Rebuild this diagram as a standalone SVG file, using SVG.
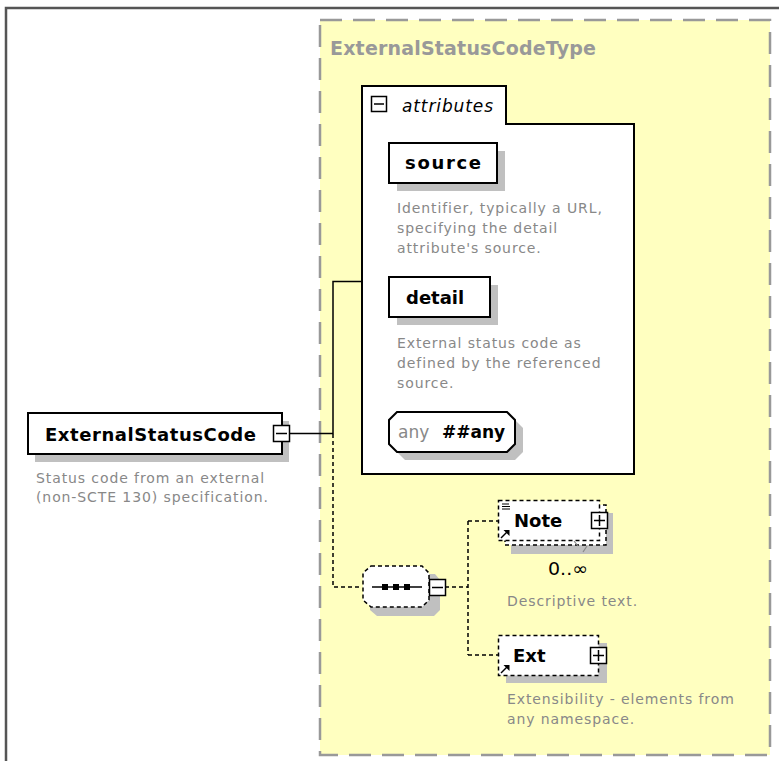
<svg xmlns="http://www.w3.org/2000/svg" width="779" height="761" viewBox="0 0 779 761">
<style>
.frame{fill:none;stroke:#555;stroke-width:2.5}
.typebox{fill:#ffffc0;stroke:#999;stroke-width:2.5;stroke-dasharray:22,11}
.title{font-family:"DejaVu Sans",sans-serif;font-weight:bold;font-size:19px;fill:#999}
.box{fill:#fff;stroke:#000;stroke-width:2}
.dbox{fill:#fff;stroke:#000;stroke-width:1.5;stroke-dasharray:4,3}
.shadow{fill:#c0c0c0;stroke:none}
.lbl{font-family:"DejaVu Sans",sans-serif;font-weight:bold;font-size:18px;fill:#000}
.desc{font-family:"DejaVu Sans",sans-serif;font-size:14px;fill:#888;letter-spacing:0.9px}
.ital{font-family:"DejaVu Sans",sans-serif;font-style:italic;font-size:17px;fill:#000}
.sym{fill:#fff;stroke:#000;stroke-width:1.5}
.symline{stroke:#000;stroke-width:1.5;fill:none}
.solid{fill:none;stroke:#000;stroke-width:1.5}
.dash{fill:none;stroke:#000;stroke-width:1.5;stroke-dasharray:4,3}
</style>
<path class="frame" d="M6,761 V8 H779"/>
<g id="ExternalStatusCodeType">
<rect class="typebox" x="320" y="20" width="450" height="735"/>
<text class="title" x="330" y="55" textLength="266" lengthAdjust="spacing">ExternalStatusCodeType</text>
</g>
<g id="connectors">
<path class="solid" d="M289,433.5 H333 V281.5 H362"/>
<path class="dash" d="M333,434 V587 H362"/>
<path class="dash" d="M445,587 H468"/>
<path class="dash" d="M468,521 V655"/>
<path class="dash" d="M468,521 H498"/>
<path class="dash" d="M468,655 H498"/>
</g>
<g id="ExternalStatusCode">
<rect class="shadow" x="35" y="421" width="254" height="41"/>
<rect class="box" x="28" y="413" width="254" height="41"/>
<text class="lbl" x="45" y="441" textLength="211" lengthAdjust="spacing">ExternalStatusCode</text>
<rect class="sym" x="273.5" y="425.5" width="16" height="16"/>
<path class="symline" d="M276,433.5 H287"/>
<text class="desc" x="36" y="483">Status code from an external</text>
<text class="desc" x="36" y="502">(non-SCTE 130) specification.</text>
</g>
<g id="attributes">
<path class="box" d="M362,86 H506 V124 H634 V474 H362 Z"/>
<rect class="sym" x="371.5" y="96.5" width="15" height="15"/>
<path class="symline" d="M374,104 H384"/>
<text class="ital" x="402" y="112" textLength="91" lengthAdjust="spacing">attributes</text>
</g>
<g id="source">
<rect class="shadow" x="397" y="151" width="108" height="40"/>
<rect class="box" x="389" y="143" width="108" height="40"/>
<text class="lbl" x="405" y="169" textLength="76" lengthAdjust="spacing">source</text>
<text class="desc" x="397" y="213">Identifier, typically a URL,</text>
<text class="desc" x="397" y="233">specifying the detail</text>
<text class="desc" x="397" y="253">attribute's source.</text>
</g>
<g id="detail">
<rect class="shadow" x="397" y="285" width="101" height="40"/>
<rect class="box" x="389" y="277" width="101" height="40"/>
<text class="lbl" x="406" y="304">detail</text>
<text class="desc" x="397" y="348">External status code as</text>
<text class="desc" x="397" y="368">defined by the referenced</text>
<text class="desc" x="397" y="388">source.</text>
</g>
<g id="anyAttribute">
<path class="shadow" d="M405,420 H515 L523,428 V452 L515,460 H405 L397,452 V428 Z"/>
<path class="box" d="M397,412 H507 L515,420 V444 L507,452 H397 L389,444 V420 Z"/>
<text x="398" y="438" style="font-family:'DejaVu Sans',sans-serif;font-size:17px;fill:#888">any</text>
<text class="lbl" x="442" y="438" style="font-size:17px">##any</text>
</g>
<g id="sequence">
<path class="shadow" d="M378,574 H435 L440,580 V610 L434,616 H377 L370,610 V580 Z"/>
<path class="dbox" d="M371,566 H422 L429,573 V600 L422,607 H371 L363,600 V573 Z"/>
<path class="symline" d="M372,587 H422"/>
<rect x="382" y="584" width="6" height="6" fill="#000"/>
<rect x="393" y="584" width="6" height="6" fill="#000"/>
<rect x="404" y="584" width="6" height="6" fill="#000"/>
<rect class="sym" x="429.5" y="579.5" width="16" height="16"/>
<path class="symline" d="M432,587.5 H443"/>
</g>
<g id="Note">
<rect class="shadow" x="511" y="513" width="102" height="41"/>
<rect class="dbox" x="505" y="505" width="101" height="40"/>
<rect class="dbox" x="498.5" y="500.5" width="101" height="40"/>
<path class="symline" d="M502,504 H509 M502,506.5 H510 M502,509 H510" style="stroke-width:1"/>
<path class="symline" d="M501,538 L507,532"/>
<path d="M503.5,530 H509.5 V536 Z" fill="#000"/>
<text class="lbl" x="514" y="527">Note</text>
<rect class="sym" x="591.5" y="512.5" width="16" height="16"/>
<path class="symline" d="M594,520.5 H605 M599.5,515 V526"/>
<path d="M574,541 L578,546 M583,552 L587,546" stroke="#888" stroke-width="1.2" fill="none"/>
<text x="548" y="575" textLength="40" lengthAdjust="spacingAndGlyphs" style="font-family:'DejaVu Sans',sans-serif;font-size:18px;fill:#000">0..∞</text>
<text class="desc" x="507" y="606">Descriptive text.</text>
</g>
<g id="Ext">
<rect class="shadow" x="506" y="643" width="101" height="40"/>
<rect class="dbox" x="498.5" y="635.5" width="100" height="40"/>
<path class="symline" d="M501,673 L507,667"/>
<path d="M503.5,665 H509.5 V671 Z" fill="#000"/>
<text class="lbl" x="513" y="662">Ext</text>
<rect class="sym" x="590.5" y="647.5" width="16" height="16"/>
<path class="symline" d="M593,655.5 H604 M598.5,650 V661"/>
<text class="desc" x="507" y="704">Extensibility - elements from</text>
<text class="desc" x="507" y="724">any namespace.</text>
</g>
</svg>
